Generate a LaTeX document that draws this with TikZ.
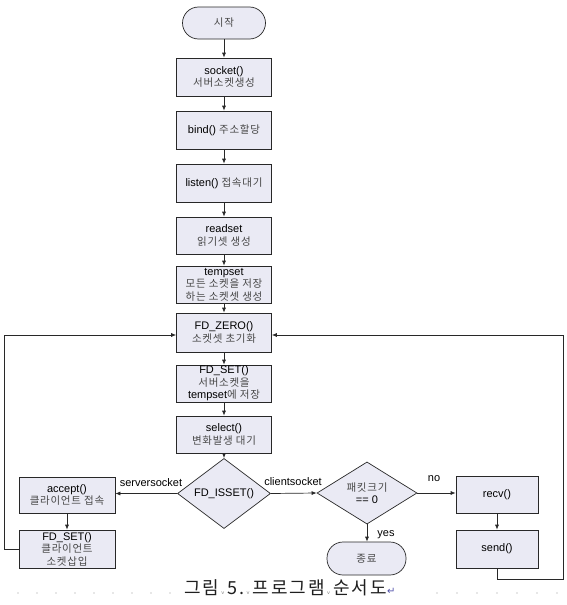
\documentclass[tikz,border=0pt]{standalone}
\usepackage{fontspec}
\setmainfont{Liberation Sans}
\newfontfamily\korfont[LetterSpace=7]{Noto Sans CJK KR}
\newfontfamily\capfont[LetterSpace=12]{Noto Sans CJK KR}
\newfontfamily\symbfont{DejaVu Sans}
\usetikzlibrary{shapes.geometric,arrows.meta}
\definecolor{boxfill}{RGB}{234,234,244}
\definecolor{linecol}{RGB}{40,40,40}
\newcommand{\ko}[1]{{\korfont\fontsize{10.5}{12.5}\selectfont\color{black!72}#1}}
\newcommand{\spmark}{\hspace{2pt}{\fontfamily{lmss}\fontsize{6}{6}\selectfont\color{black!50}v}\hspace{3pt}}
\begin{document}
\begin{tikzpicture}[x=1pt,y=-1pt,
  box/.style={draw=linecol, fill=boxfill, line width=0.7pt, minimum width=95pt, minimum height=38pt, inner sep=0pt, align=center, font=\fontsize{11}{12.5}\selectfont},
  term/.style={box, rounded corners=16pt, minimum width=83pt, minimum height=32pt},
  dia/.style={diamond, draw=linecol, fill=boxfill, line width=0.7pt, minimum width=93pt, minimum height=61pt, inner sep=0pt, align=center, font=\fontsize{11}{12.5}\selectfont},
  arr/.style={-{Latex[length=5pt,width=4pt]}, line width=0.7pt, draw=linecol},
  lbl/.style={font=\fontsize{11}{12.5}\selectfont, inner sep=0pt}
]
\fill[white] (0,0) rectangle (566,605);
\useasboundingbox (0,0) rectangle (566,605);

\node[term] (start) at (224,23) {\ko{시작}};
\node[box] (socket) at (224,77) {socket()\\\ko{서버소켓생성}};
\node[box] (bind) at (224,130) {bind() \ko{주소할당}};
\node[box] (listen) at (224,183) {listen() \ko{접속대기}};
\node[box, minimum height=37pt] (readset) at (224,235.5) {readset\\\ko{읽기셋 생성}};
\node[box, minimum height=37pt] (tempset) at (224,284.5) {tempset\\\ko{모든 소켓을 저장}\\\ko{하는 소켓셋 생성}};
\node[box, minimum height=39pt] (fdzero) at (224,332.5) {FD\_ZERO()\\\ko{소켓셋 초기화}};
\node[box, minimum height=37pt] (fdset) at (224,383.5) {FD\_SET()\\\ko{서버소켓을}\\tempset\ko{에 저장}};
\node[box, minimum height=37pt] (select) at (224,434.5) {select()\\\ko{변화발생 대기}};
\node[dia] (isset) at (224,493.5) {FD\_ISSET()};
\node[box, minimum width=96pt, minimum height=36pt] (accept) at (67,495) {accept()\\\ko{클라이언트 접속}};
\node[box, minimum width=96pt] (fdsetc) at (67,549) {FD\_SET()\\\ko{클라이언트}\\\ko{소켓삽입}};
\node[dia, minimum width=100pt, minimum height=60pt] (pk) at (367,493) {\ko{패킷크기}\\== 0};
\node[term, minimum width=79pt, minimum height=33pt] (end) at (366.5,558.5) {\ko{종료}};
\node[box, minimum width=82pt, minimum height=37pt] (recv) at (497,494.5) {recv()};
\node[box, minimum width=82pt] (send) at (497,549) {send()};

\draw[arr] (start) -- (socket);
\draw[arr] (socket) -- (bind);
\draw[arr] (bind) -- (listen);
\draw[arr] (listen) -- (readset);
\draw[arr] (readset) -- (tempset);
\draw[arr] (tempset) -- (fdzero);
\draw[arr] (fdzero) -- (fdset);
\draw[arr] (fdset) -- (select);
\draw[arr] (select) -- (isset);
\draw[arr] (isset.west) -- (isset.west -| accept.east);
\draw[arr] (accept) -- (fdsetc);
\draw[arr] (isset.east) -- (pk.west);
\draw[arr] (pk.east) -- (pk.east -| recv.west);
\draw[arr] (pk.south) -- (pk.south |- end.north);
\draw[arr] (recv) -- (send);

\coordinate (lb) at (4,549);
\coordinate (lt) at (4,335);
\draw[arr] (fdsetc.west) -- (lb) -- (lt) -- (fdzero.west |- lt);
\coordinate (rb) at (563,579);
\coordinate (rt) at (563,335);
\draw[arr] (send.south) -- (send.south |- rb) -- (rb) -- (rt) -- (fdzero.east |- rt);

\node[lbl] (lserver) at (151,483) {serversocket};
\node[lbl] (lclient) at (293,482) {clientsocket};
\node[lbl] (lno) at (434,479) {no};
\node[lbl] (lyes) at (386,535) {yes};

\node[anchor=west, inner sep=0pt, font=\capfont\fontsize{18}{20}\selectfont, text=black!88] (caption) at (184,588)
  {그림\spmark 5.\spmark 프로그램\spmark 순서도{\symbfont\fontsize{10}{10}\selectfont\color{blue!35!gray}↵}};

\foreach \i in {0,...,8} \fill[black!40] (18+19*\i,593) circle (0.6pt);
\foreach \i in {0,...,6} \fill[black!40] (437+20*\i,593) circle (0.6pt);
\end{tikzpicture}
\end{document}
